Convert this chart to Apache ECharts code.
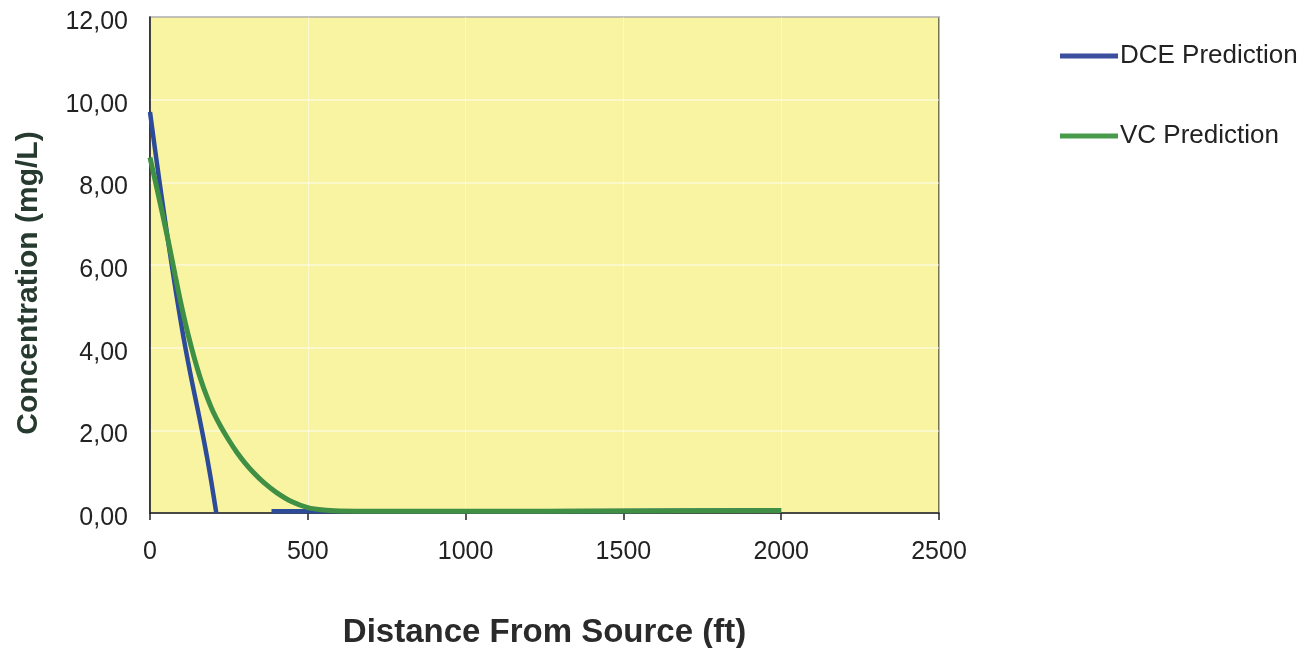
<!DOCTYPE html>
<html><head><meta charset="utf-8">
<script src="https://cdn.jsdelivr.net/npm/echarts@6/dist/echarts.min.js"></script>
<style>html,body{margin:0;padding:0;background:#fff}#c{width:1314px;height:648px}</style>
</head><body><div id="c"></div>
<script>
const dceDistance = [0, 15, 30, 45, 60, 75, 90, 105, 120, 135, 150, 165, 180, 195, 210, 300, 385, 500, 700, 1000, 1500, 2000];
const dceValues   = [9.7, 8.85, 8.02, 7.22, 6.45, 5.7, 4.98, 4.3, 3.68, 3.1, 2.55, 1.98, 1.38, 0.72, 0, null, 0.04, 0.04, 0.04, 0.04, 0.05, 0.06];
const vcDistance  = [0, 20, 40, 60, 80, 100, 120, 140, 160, 180, 200, 225, 250, 275, 300, 330, 360, 400, 450, 500, 550, 600, 700, 1000, 1500, 2000];
const vcValues    = [8.6, 7.92, 7.22, 6.5, 5.74, 5.0, 4.34, 3.76, 3.25, 2.82, 2.45, 2.08, 1.76, 1.47, 1.22, 0.96, 0.74, 0.5, 0.27, 0.13, 0.07, 0.05, 0.04, 0.04, 0.05, 0.06];
const xTicks = [0, 500, 1000, 1500, 2000, 2500];
const yTicks = [0, 2, 4, 6, 8, 10, 12];

const pairs = (xs, ys) => xs.map((x, i) => [x, ys[i]]);
const chart = echarts.init(document.getElementById('c'), null, {renderer: 'canvas'});
chart.setOption({
  animation: false,
  textStyle: {fontFamily: 'Liberation Sans, Arial, sans-serif'},
  grid: {left: 150, top: 17, right: 375, bottom: 135, show: true,
         containLabel: false, outerBoundsMode: 'none',
         backgroundColor: '#f8f4a2', borderColor: '#222', borderWidth: 1.2},
  legend: {
    orient: 'vertical', left: 1055, top: 38, itemGap: 54,
    itemWidth: 58, itemHeight: 5, icon: 'rect',
    textStyle: {fontSize: 26, color: '#222', padding: [0, 0, 0, -3]},
    data: ['DCE Prediction', 'VC Prediction']
  },
  xAxis: {
    type: 'value', min: xTicks[0], max: xTicks[xTicks.length - 1], interval: 500,
    name: 'Distance From Source (ft)', nameLocation: 'middle', nameGap: 103,
    nameTextStyle: {fontSize: 33, fontWeight: 'bold', color: '#2a2a2a'},
    axisLine: {lineStyle: {color: '#222', width: 1.5}},
    axisTick: {show: true, length: 7, lineStyle: {color: '#222', width: 1.5}},
    axisLabel: {fontSize: 25, color: '#222', margin: 27, formatter: v => String(v)},
    splitLine: {show: true, lineStyle: {color: 'rgba(255,255,255,0.45)', width: 1}}
  },
  yAxis: {
    type: 'value', min: yTicks[0], max: yTicks[yTicks.length - 1], interval: 2,
    name: 'Concentration (mg/L)', nameLocation: 'middle', nameGap: 106,
    nameTextStyle: {fontSize: 30, fontWeight: 'bold', color: '#263a30', padding: [0, 36, 0, 0]},
    axisLine: {show: true, lineStyle: {color: '#222', width: 1.5}},
    axisTick: {show: false},
    axisLabel: {margin: 22,
      formatter: v => '{a|' + v.toFixed(2).replace('.', ',') + '}',
      rich: {a: {fontSize: 25, color: '#222', padding: [10, 0, 0, 0]}}},
    splitLine: {show: true, lineStyle: {color: 'rgba(255,255,255,0.6)', width: 1.5}}
  },
  series: [
    {name: 'DCE Prediction', type: 'line', data: pairs(dceDistance, dceValues),
     smooth: 0.3, showSymbol: false, connectNulls: false, color: '#3a4f9e',
     lineStyle: {width: 4.5, color: '#2c4b98'}},
    {name: 'VC Prediction', type: 'line', data: pairs(vcDistance, vcValues),
     smooth: 0.3, showSymbol: false, color: '#4a9a4c',
     lineStyle: {width: 5, color: '#3f8f45'}}
  ]
});
</script></body></html>
